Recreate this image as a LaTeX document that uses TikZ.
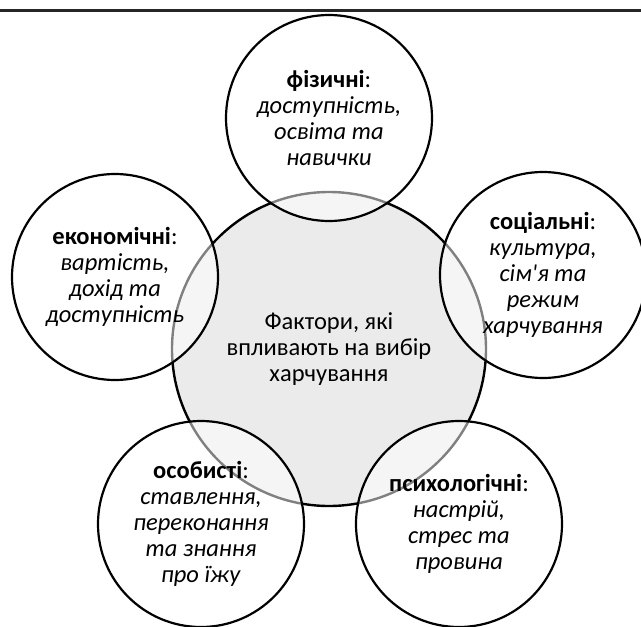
\documentclass[tikz,border=0pt]{standalone}
\usepackage{fontspec}
\setmainfont{Carlito}[Ligatures=TeXOff]
\begin{document}
\begin{tikzpicture}[x=1pt,y=-1pt,
  txt/.style={font=\fontsize{24.5}{26}\selectfont, align=center},
  hub/.style={circle, draw=black, line width=2.4pt, fill=black!8, minimum size=314pt, inner sep=0pt, txt},
  factor/.style={circle, draw=black, line width=2.2pt, fill=white, fill opacity=0.5, text opacity=1, draw opacity=1, minimum size=206pt, inner sep=0pt, txt}]
\useasboundingbox (0,0) rectangle (641,627);
\coordinate (ruleL) at (0,10);
\coordinate (ruleR) at (641,10);
\draw[line width=3pt, black!85] (ruleL) -- (ruleR);
\node[hub] (hub) at (329,349) {Фактори, які\\впливають на вибір\\харчування};
\node[factor] (phys) at (329,118) {\textbf{фізичні}:\\\textit{доступність,}\\\textit{освіта та}\\\textit{навички}};
\node[factor] (econ) at (115,277) {\textbf{економічні}:\\\textit{вартість,}\\\textit{дохід та}\\\textit{доступність}};
\node[factor] (soc) at (543,275) {\textbf{соціальні}:\\\textit{культура,}\\\textit{сім'я та}\\\textit{режим}\\\textit{харчування}};
\node[factor] (pers) at (201,524) {\textbf{особисті}:\\\textit{ставлення,}\\\textit{переконання}\\\textit{та знання}\\\textit{про їжу}};
\node[factor] (psy) at (459,524) {\textbf{психологічні}:\\\textit{настрій,}\\\textit{стрес та}\\\textit{провина}};
\end{tikzpicture}
\end{document}
